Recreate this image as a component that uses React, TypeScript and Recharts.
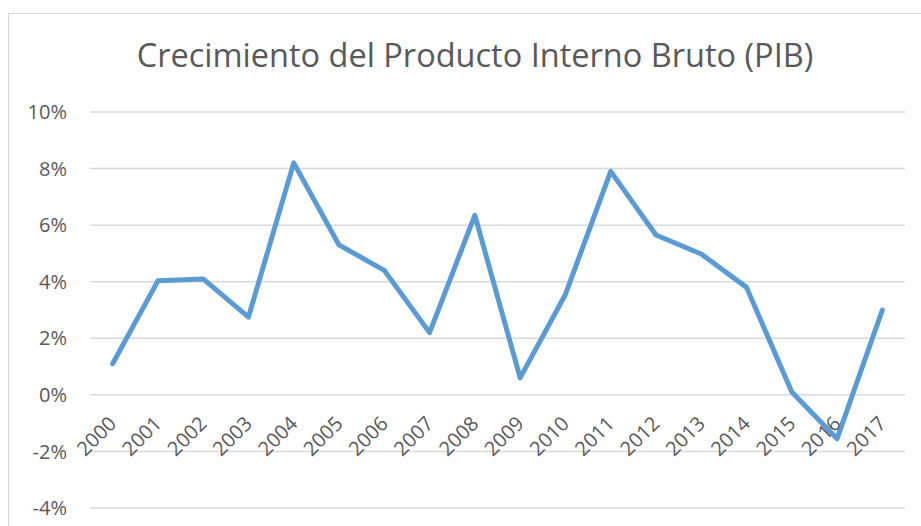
import React from 'react';
import { LineChart, Line, XAxis, YAxis, CartesianGrid } from 'recharts';

const years = ['2000','2001','2002','2003','2004','2005','2006','2007','2008','2009','2010','2011','2012','2013','2014','2015','2016','2017'];
const growth = [1.1, 4.03, 4.1, 2.75, 8.2, 5.3, 4.4, 2.2, 6.35, 0.6, 3.55, 7.9, 5.65, 4.98, 3.8, 0.1, -1.55, 3.0];
const yTicks = [-4, -2, 0, 2, 4, 6, 8, 10];
const title = 'Crecimiento del Producto Interno Bruto (PIB)';

const data = years.map((y, i) => ({ year: y, value: growth[i] }));

const W = 921;
const H = 526;
const PLOT_LEFT = 90;
const PLOT_RIGHT = 905;
const PLOT_TOP = 112;
const PLOT_BOTTOM = 508;
const Y_MIN = -4;
const Y_MAX = 10;
const zeroY = PLOT_TOP + ((Y_MAX - 0) / (Y_MAX - Y_MIN)) * (PLOT_BOTTOM - PLOT_TOP);
const halfBand = (PLOT_RIGHT - PLOT_LEFT) / years.length / 2;
const FONT = '"Open Sans", sans-serif';
const TEXT = '#595959';

const XTick = (props: any) => {
  const { x, payload } = props;
  const px = x + 5;
  const py = zeroY + 30;
  return (
    <text
      x={px}
      y={py}
      textAnchor="end"
      transform={`rotate(-45, ${px}, ${py})`}
      fill={TEXT}
      fontSize={20}
      fontFamily={FONT}
    >
      {payload.value}
    </text>
  );
};

export default function App() {
  return (
    <div style={{ position: 'absolute', left: 0, top: 0, width: W, height: H, overflow: 'hidden', background: '#fff' }}>
      <div style={{ position: 'absolute', left: 8, top: 13, width: 960, height: 600, border: '1px solid #d9d9d9', boxSizing: 'border-box' }} />
      <div style={{ position: 'absolute', left: 0, top: 0 }}>
        <LineChart
          width={W}
          height={H}
          data={data}
          margin={{ top: PLOT_TOP, right: W - PLOT_RIGHT, bottom: H - PLOT_BOTTOM - 1, left: PLOT_LEFT - 60 }}
        >
          <text x={475} y={67} textAnchor="middle" fill={TEXT} fontSize={32.5} fontFamily={FONT}>
            {title}
          </text>
          <CartesianGrid vertical={false} stroke="#d9d9d9" strokeWidth={1.5} />
          <XAxis
            dataKey="year"
            height={1}
            axisLine={false}
            tickLine={false}
            interval={0}
            padding={{ left: halfBand, right: halfBand }}
            tick={<XTick />}
          />
          <YAxis
            width={60}
            domain={[Y_MIN, Y_MAX]}
            ticks={yTicks}
            axisLine={false}
            tickLine={false}
            tickSize={0}
            tickMargin={23}
            tickFormatter={(v: number) => `${v}%`}
            tick={{ fill: TEXT, fontSize: 20, fontFamily: FONT }}
          />
          <Line
            type="linear"
            dataKey="value"
            stroke="#5b9bd5"
            strokeWidth={5}
            strokeLinejoin="round"
            strokeLinecap="round"
            dot={false}
            activeDot={false}
            isAnimationActive={false}
          />
        </LineChart>
      </div>
    </div>
  );
}
